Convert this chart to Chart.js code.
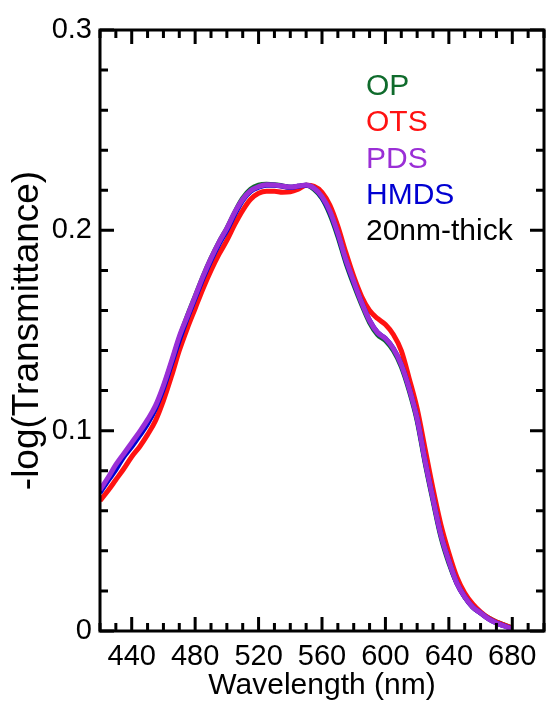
<!DOCTYPE html>
<html>
<head>
<meta charset="utf-8">
<title>-log(Transmittance) spectra</title>
<script src="https://cdn.jsdelivr.net/npm/chart.js@4.4.1/dist/chart.umd.min.js"></script>
<style>
  html, body { margin: 0; padding: 0; background: #fff; }
  #chart { display: block; }
</style>
</head>
<body>
<canvas id="chart" width="553" height="708"></canvas>
<script>
// Wavelength grid (nm) shared by all four spectra
const wavelengths = [
  420, 425, 430, 435, 440, 445, 450, 455, 460, 465,
  470, 475, 480, 485, 490, 495, 500, 505, 510, 515,
  520, 525, 530, 535, 540, 545, 550, 555, 560, 565,
  570, 575, 580, 585, 590, 595, 600, 605, 610, 615,
  620, 625, 630, 635, 640, 645, 650, 655, 660, 665,
  670, 675, 680
];

// -log(Transmittance) of the 20 nm films on each surface treatment
const opValues = [
  0.0695, 0.0755, 0.0815, 0.0875, 0.0925, 0.098, 0.104, 0.1115, 0.1215, 0.1335,
  0.146, 0.157, 0.167, 0.177, 0.186, 0.194, 0.201, 0.209, 0.216, 0.2205,
  0.2225, 0.223, 0.2228, 0.2222, 0.2215, 0.222, 0.2225, 0.2205, 0.216, 0.208,
  0.197, 0.184, 0.173, 0.163, 0.154, 0.148, 0.145, 0.140, 0.132, 0.120,
  0.105, 0.084, 0.065, 0.047, 0.034, 0.024, 0.017, 0.012, 0.009, 0.0065,
  0.0045, 0.003, 0.0015
];
const otsValues = [
  0.065, 0.070, 0.0755, 0.081, 0.087, 0.092, 0.098, 0.105, 0.115, 0.127,
  0.140, 0.151, 0.161, 0.171, 0.180, 0.188, 0.195, 0.203, 0.210, 0.2155,
  0.2185, 0.2195, 0.2195, 0.219, 0.2192, 0.2205, 0.2225, 0.222, 0.219, 0.2125,
  0.202, 0.189, 0.177, 0.167, 0.160, 0.156, 0.153, 0.148, 0.140, 0.126,
  0.111, 0.091, 0.071, 0.053, 0.039, 0.027, 0.019, 0.0135, 0.0095, 0.0065,
  0.0045, 0.003, 0.0015
];
const pdsValues = [
  0.0705, 0.0765, 0.083, 0.0885, 0.094, 0.0995, 0.1055, 0.1125, 0.1225, 0.1345,
  0.147, 0.157, 0.167, 0.177, 0.186, 0.194, 0.201, 0.209, 0.2155, 0.2198,
  0.2218, 0.2227, 0.2226, 0.2221, 0.2216, 0.2221, 0.2226, 0.221, 0.2168, 0.2095,
  0.1985, 0.1855, 0.1745, 0.164, 0.155, 0.149, 0.146, 0.141, 0.133, 0.121,
  0.106, 0.085, 0.066, 0.048, 0.035, 0.024, 0.017, 0.012, 0.009, 0.006,
  0.004, 0.0025, 0.001
];
const hmdsValues = [
  0.069, 0.075, 0.0805, 0.087, 0.092, 0.0975, 0.1035, 0.111, 0.121, 0.133,
  0.145, 0.156, 0.166, 0.176, 0.185, 0.193, 0.200, 0.208, 0.215, 0.2195,
  0.2215, 0.2225, 0.2225, 0.222, 0.2215, 0.222, 0.2225, 0.221, 0.2165, 0.209,
  0.198, 0.185, 0.174, 0.164, 0.155, 0.149, 0.146, 0.141, 0.133, 0.121,
  0.106, 0.085, 0.066, 0.048, 0.035, 0.024, 0.017, 0.012, 0.009, 0.006,
  0.004, 0.0025, 0.001
];

// Series names, colours and the film note shown in the key
const seriesNames = ['OP', 'OTS', 'PDS', 'HMDS'];
const seriesColors = ['#0f6b2c', '#ff1212', '#9a2fd6', '#0000d2'];
const filmNote = '20nm-thick';

// Axis ticks
const xMajorTicks = [440, 480, 520, 560, 600, 640, 680];
const xTickLabels = ['440', '480', '520', '560', '600', '640', '680'];
const yMajorTicks = [0, 0.1, 0.2, 0.3];
const yTickLabels = ['0', '0.1', '0.2', '0.3'];
const xRange = [420, 700];
const yRange = [0, 0.3];
const xMinorStep = 10;
const yMinorStep = 0.02;

const FONT = '"Liberation Sans", Arial, Helvetica, sans-serif';

function pairs(values) {
  return wavelengths.map((w, i) => ({ x: w, y: values[i] }));
}

function tickList(min, max, step) {
  const out = [];
  const n = Math.round((max - min) / step);
  for (let i = 0; i <= n; i++) out.push(+(min + i * step).toFixed(6));
  return out;
}
const xTickValues = tickList(xRange[0], xRange[1], xMinorStep);
const yTickValues = tickList(yRange[0], yRange[1], yMinorStep);

function labelFor(value, majors, labels) {
  const i = majors.findIndex(m => Math.abs(m - value) < 1e-9);
  return i >= 0 ? labels[i] : '';
}
function isMajor(value, majors) {
  return majors.some(m => Math.abs(m - value) < 1e-9);
}

// Frame with inward tick marks on all four sides
const frameTicks = {
  id: 'frameTicks',
  afterDatasetsDraw(chart) {
    const { ctx, chartArea: a, scales: { x, y } } = chart;
    ctx.save();
    ctx.strokeStyle = '#000';
    ctx.lineWidth = 3;
    ctx.lineCap = 'butt';
    ctx.beginPath();
    x.ticks.forEach(t => {
      const px = x.getPixelForValue(t.value);
      const len = isMajor(t.value, xMajorTicks) ? 14 : 8;
      ctx.moveTo(px, a.bottom); ctx.lineTo(px, a.bottom - len);
      ctx.moveTo(px, a.top); ctx.lineTo(px, a.top + len);
    });
    y.ticks.forEach(t => {
      const py = y.getPixelForValue(t.value);
      const len = isMajor(t.value, yMajorTicks) ? 14 : 8;
      ctx.moveTo(a.left, py); ctx.lineTo(a.left + len, py);
      ctx.moveTo(a.right, py); ctx.lineTo(a.right - len, py);
    });
    ctx.stroke();
    ctx.strokeRect(a.left, a.top, a.right - a.left, a.bottom - a.top);
    ctx.restore();
  }
};

// Coloured text key inside the plot
const textKey = {
  id: 'textKey',
  afterDraw(chart) {
    const { ctx, chartArea: a } = chart;
    ctx.save();
    ctx.font = '30px ' + FONT;
    ctx.textAlign = 'left';
    ctx.textBaseline = 'alphabetic';
    const x0 = a.left + 266;
    const y0 = a.top + 65;
    const step = 36.3;
    seriesNames.forEach((name, i) => {
      ctx.fillStyle = seriesColors[i];
      ctx.fillText(name, x0, y0 + i * step);
    });
    ctx.fillStyle = '#000';
    ctx.fillText(filmNote, x0, y0 + seriesNames.length * step);
    ctx.restore();
  }
};

const drawOrder = [4, 3, 1, 2];
const seriesValues = [opValues, otsValues, pdsValues, hmdsValues];

new Chart(document.getElementById('chart'), {
  type: 'line',
  data: {
    datasets: seriesNames.map((name, i) => ({
      label: name,
      data: pairs(seriesValues[i]),
      borderColor: seriesColors[i],
      backgroundColor: seriesColors[i],
      borderWidth: 5,
      pointRadius: 0,
      fill: false,
      cubicInterpolationMode: 'monotone',
      order: drawOrder[i]
    }))
  },
  options: {
    responsive: false,
    animation: false,
    layout: { padding: { top: 30, right: 4, left: 0, bottom: 0 } },
    plugins: { legend: { display: false }, tooltip: { enabled: false } },
    scales: {
      x: {
        type: 'linear',
        min: xRange[0],
        max: xRange[1],
        afterBuildTicks: s => { s.ticks = xTickValues.map(v => ({ value: v })); },
        afterFit: s => { s.height = 77; },
        grid: { display: false, drawTicks: false },
        border: { display: false },
        ticks: {
          autoSkip: false,
          maxRotation: 0,
          padding: 9,
          color: '#000',
          font: { family: FONT, size: 29 },
          callback: v => labelFor(v, xMajorTicks, xTickLabels)
        },
        title: {
          display: true,
          text: 'Wavelength (nm)',
          color: '#000',
          font: { family: FONT, size: 30, lineHeight: 1 },
          padding: { top: 0, bottom: 7 }
        }
      },
      y: {
        type: 'linear',
        min: yRange[0],
        max: yRange[1],
        afterBuildTicks: s => { s.ticks = yTickValues.map(v => ({ value: v })); },
        afterFit: s => { s.width = 100; },
        grid: { display: false, drawTicks: false },
        border: { display: false },
        ticks: {
          autoSkip: false,
          padding: 8,
          color: '#000',
          font: { family: FONT, size: 29 },
          callback: v => labelFor(v, yMajorTicks, yTickLabels)
        },
        title: {
          display: true,
          text: '-log(Transmittance)',
          color: '#000',
          font: { family: FONT, size: 37, lineHeight: 1 },
          padding: { top: 9, bottom: 0 }
        }
      }
    }
  },
  plugins: [frameTicks, textKey]
});
</script>
</body>
</html>
